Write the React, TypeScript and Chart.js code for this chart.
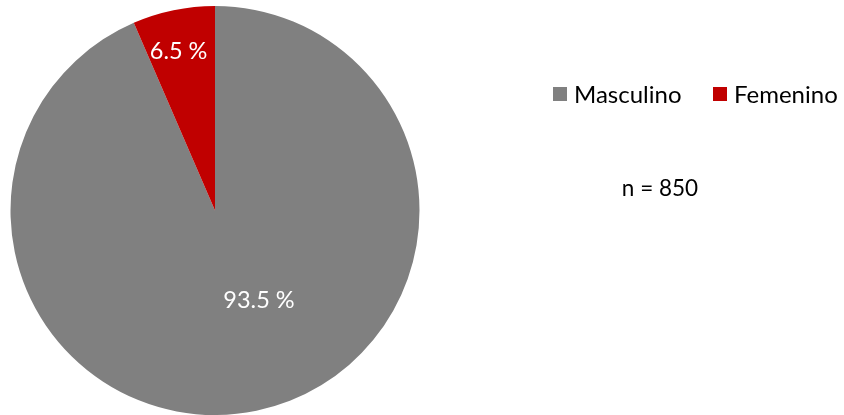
import React, { useEffect, useRef } from "react";
import { Chart, registerables } from "chart.js";

Chart.register(...registerables);

const categories = ["Masculino", "Femenino"];
const values = [93.5, 6.5];
const colors = ["#808080", "#C00000"];
const valueLabels = ["93.5 %", "6.5 %"];
const sampleNote = "n = 850";

const FONT = "Lato, 'Open Sans', sans-serif";

const overlayPlugin = {
  id: "overlay",
  afterDatasetsDraw(chart: any) {
    const ctx = chart.ctx;
    const meta = chart.getDatasetMeta(0);
    ctx.save();
    // value labels
    ctx.fillStyle = "#ffffff";
    ctx.font = `23.5px ${FONT}`;
    ctx.textAlign = "center";
    ctx.textBaseline = "middle";
    const offsets = [
      { frac: 0.49, dAngle: -0.25 },
      { frac: 0.8, dAngle: -0.02 },
    ];
    meta.data.forEach((arc: any, i: number) => {
      const p = arc.getProps(["x", "y", "startAngle", "endAngle", "outerRadius"], true);
      const mid = (p.startAngle + p.endAngle) / 2 + offsets[i].dAngle;
      const r = p.outerRadius * offsets[i].frac;
      ctx.fillText(valueLabels[i], p.x + Math.cos(mid) * r, p.y + Math.sin(mid) * r);
    });
    // legend
    ctx.font = `24px ${FONT}`;
    ctx.textAlign = "left";
    ctx.textBaseline = "middle";
    const legendY = 94;
    const items = [
      { x: 553, label: categories[0], color: colors[0] },
      { x: 713, label: categories[1], color: colors[1] },
    ];
    items.forEach((it) => {
      ctx.fillStyle = it.color;
      ctx.fillRect(it.x, legendY - 7, 14, 14);
      ctx.fillStyle = "#000000";
      ctx.fillText(it.label, it.x + 21, legendY + 1);
    });
    // n note
    ctx.font = `22.5px ${FONT}`;
    ctx.fillStyle = "#000000";
    ctx.textAlign = "center";
    ctx.fillText(sampleNote, 660, 189);
    ctx.restore();
  },
};

export default function App() {
  const ref = useRef<HTMLCanvasElement | null>(null);
  useEffect(() => {
    if (!ref.current) return;
    const chart = new Chart(ref.current, {
      type: "pie",
      data: {
        labels: categories,
        datasets: [
          {
            data: values,
            backgroundColor: colors,
            borderColor: "#ffffff",
            borderWidth: 0,
          },
        ],
      },
      options: {
        responsive: false,
        animation: false,
        layout: { padding: { left: 10, right: 424, top: 6, bottom: 0 } },
        plugins: {
          legend: { display: false },
          tooltip: { enabled: false },
        },
      },
      plugins: [overlayPlugin],
    });
    return () => chart.destroy();
  }, []);
  return (
    <div style={{ position: "fixed", left: 0, top: 0, width: 844, height: 415, background: "#fff" }}>
      <canvas ref={ref} width={844} height={415} style={{ display: "block" }} />
    </div>
  );
}
